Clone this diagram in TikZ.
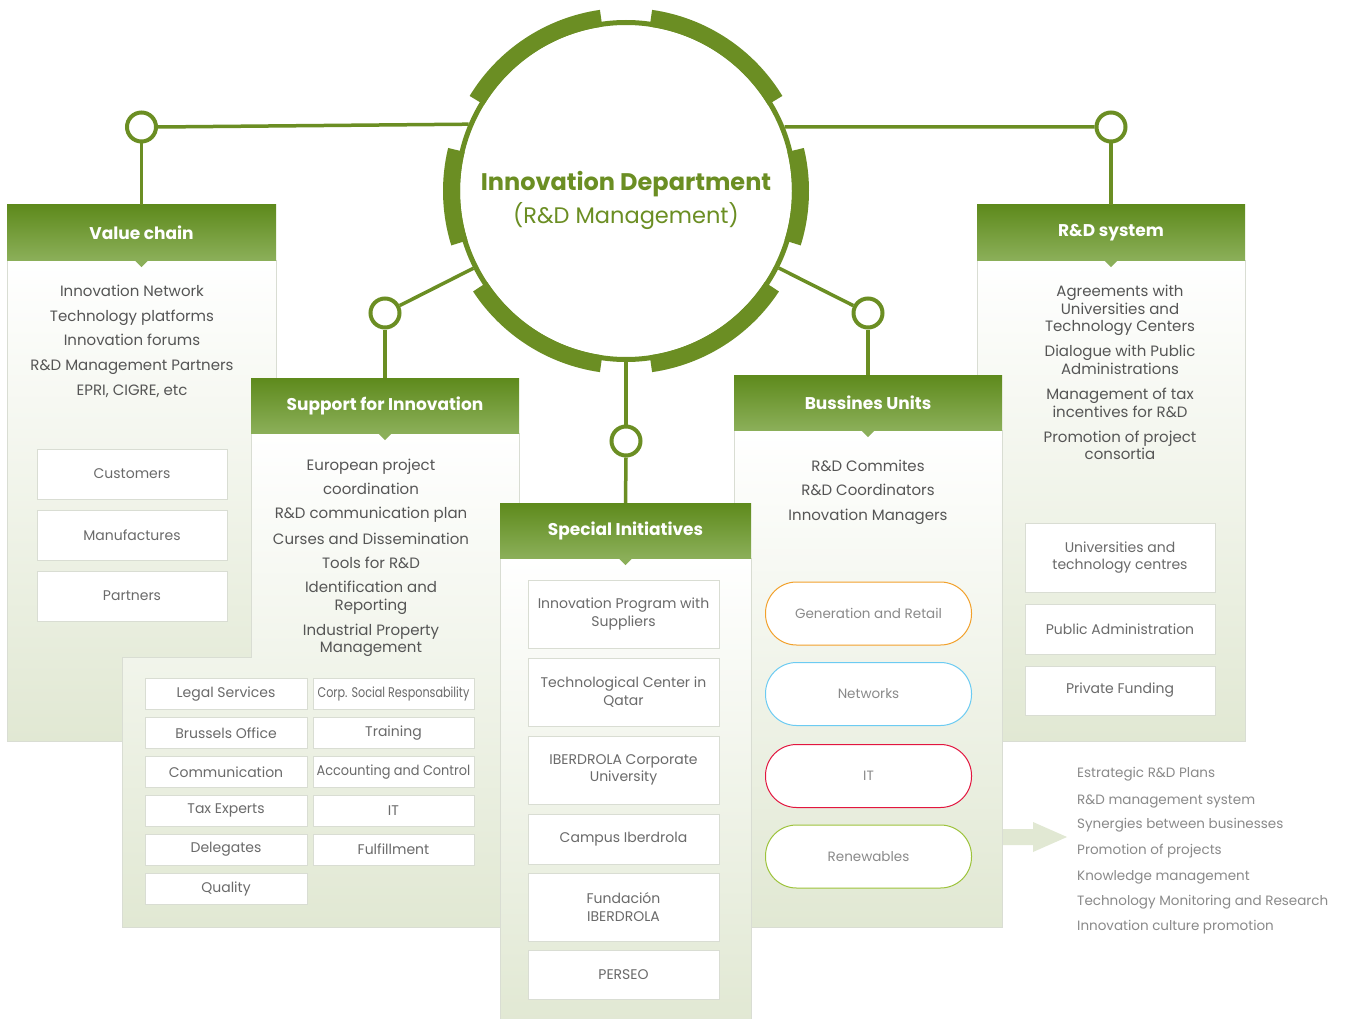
\documentclass[tikz,border=0pt]{standalone}
\usepackage{fontspec}
\setmainfont{Poppins}
\usepackage{graphicx}
\definecolor{ogreen}{HTML}{6B8E23}
\definecolor{hdtop}{HTML}{5E8A1C}
\definecolor{hdbot}{HTML}{8BAF59}
\definecolor{pbot}{HTML}{E1E8D3}
\definecolor{pborder}{HTML}{D9DDD3}
\definecolor{txt}{HTML}{555555}
\definecolor{boxtxt}{HTML}{6A6A6A}
\definecolor{lighttxt}{HTML}{8A8A8A}
\definecolor{pOrange}{HTML}{F2A12C}
\definecolor{pBlue}{HTML}{6CCBF2}
\definecolor{pRed}{HTML}{E2163F}
\definecolor{pGreen}{HTML}{9DC33B}
\newcommand\ringseg[2]{\fill[ogreen] (#1:166pt) arc[start angle=#1,end angle=#2,radius=166pt] -- (#2:183pt) arc[start angle=#2,end angle=#1,radius=183pt] -- cycle;}
\begin{document}
\begin{tikzpicture}[x=1pt,y=1pt,
  panel/.style={top color=white, bottom color=pbot, draw=pborder, line width=0.8pt},
  hdr/.style={rectangle, top color=hdtop, bottom color=hdbot, minimum height=55pt, minimum width=268pt, inner sep=0, text=white, font=\fontsize{17}{19}\selectfont\bfseries},
  bt/.style={anchor=base, text=txt, font=\fontsize{15}{18}\selectfont, inner sep=0},
  wbox/.style={rectangle, draw=pborder, fill=white, line width=0.8pt, text=boxtxt, font=\fontsize{14}{17.5}\selectfont, align=center, inner sep=0},
  pill/.style={rectangle, rounded corners=31pt, fill=white, line width=1pt, minimum width=206pt, minimum height=63pt, text=lighttxt, font=\fontsize{13.5}{16}\selectfont},
  conn/.style={circle, draw=ogreen, line width=4pt, fill=white, minimum size=29pt, inner sep=0},
  link/.style={draw=ogreen, line width=3.5pt},
  lst/.style={anchor=base west, text=lighttxt, font=\fontsize{13.5}{16}\selectfont, inner sep=0}]
\useasboundingbox (0,0) rectangle (1349,-1019);
\fill[white] (0,0) rectangle (1349,-1019);

% ---------- Value chain ----------
\path[panel] (7,-260) rectangle (276,-741);
\node[hdr, minimum width=269pt] (vch) at (141.5,-232.5) {Value chain};
\fill[hdbot] (vch.south) ++(-7,0) -- ++(14,0) -- ++(-7,-7) -- cycle;
\node[bt] (vc1) at (132,-296.5) {Innovation Network};
\node[bt] (vc2) at (132,-321.5) {Technology platforms};
\node[bt] (vc3) at (132,-345.5) {Innovation forums};
\node[bt] (vc4) at (132,-370.5) {R\&D Management Partners};
\node[bt] (vc5) at (132,-395.5) {EPRI, CIGRE, etc};
\node[wbox, minimum width=190pt, minimum height=50pt] (cust) at (132,-474) {Customers};
\node[wbox, minimum width=190pt, minimum height=50pt] (manu) at (132,-535) {Manufactures};
\node[wbox, minimum width=190pt, minimum height=50pt] (part) at (132,-596) {Partners};

% ---------- R&D system ----------
\path[panel] (977,-260) rectangle (1245,-741);
\node[hdr] (rdh) at (1111,-232.5) {R\&D system};
\fill[hdbot] (rdh.south) ++(-7,0) -- ++(14,0) -- ++(-7,-7) -- cycle;
\node[bt] (rd1) at (1120,-296.7) {Agreements with};
\node[bt] (rd2) at (1120,-314.3) {Universities and};
\node[bt] (rd3) at (1120,-331.7) {Technology Centers};
\node[bt] (rd4) at (1120,-356.7) {Dialogue with Public};
\node[bt] (rd5) at (1120,-374.3) {Administrations};
\node[bt] (rd6) at (1120,-399.3) {Management of tax};
\node[bt] (rd7) at (1120,-417.7) {incentives for R\&D};
\node[bt] (rd8) at (1120,-442.7) {Promotion of project};
\node[bt] (rd9) at (1120,-459.3) {consortia};
\node[wbox, minimum width=190pt, minimum height=69pt] (univ) at (1120,-557.5) {Universities and\\technology centres};
\node[wbox, minimum width=190pt, minimum height=50pt] (pubad) at (1120,-629) {Public Administration};
\node[wbox, minimum width=190pt, minimum height=49pt] (privf) at (1120,-690.5) {Private Funding};

% ---------- Support for Innovation ----------
\path[panel] (251,-433) -- (519,-433) -- (519,-927) -- (122,-927) -- (122,-657) -- (251,-657) -- cycle;
\node[hdr] (sih) at (385,-405.5) {Support for Innovation};
\fill[hdbot] (sih.south) ++(-7,0) -- ++(14,0) -- ++(-7,-7) -- cycle;
\node[bt] (s1) at (371,-470) {European project};
\node[bt] (s2) at (371,-494) {coordination};
\node[bt] (s3) at (371,-518.7) {R\&D communication plan};
\node[bt] (s4) at (371,-544) {Curses and Dissemination};
\node[bt] (s5) at (371,-568) {Tools for R\&D};
\node[bt] (s6) at (371,-592.7) {Identification and};
\node[bt] (s7) at (371,-610.7) {Reporting};
\node[bt] (s8) at (371,-635) {Industrial Property};
\node[bt] (s9) at (371,-652.7) {Management};
\begin{scope}[every node/.style={wbox, minimum height=31pt}]
\node[minimum width=162pt] (g1) at (226,-694) {Legal Services};
\node[minimum width=162pt] (g2) at (226,-733) {Brussels Office};
\node[minimum width=162pt] (g3) at (226,-772) {Communication};
\node[minimum width=162pt] (g4) at (226,-810.5) {Tax Experts};
\node[minimum width=162pt] (g5) at (226,-849.5) {Delegates};
\node[minimum width=162pt] (g6) at (226,-889) {Quality};
\node[minimum width=161pt] (h1) at (393.5,-694) {\scalebox{0.8}[1]{Corp. Social Responsability}};
\node[minimum width=161pt] (h2) at (393.5,-733) {Training};
\node[minimum width=161pt] (h3) at (393.5,-772) {\scalebox{0.92}[1]{Accounting and Control}};
\node[minimum width=161pt] (h4) at (393.5,-810.5) {IT};
\node[minimum width=161pt] (h5) at (393.5,-849.5) {Fulfillment};
\end{scope}

% ---------- Bussines Units ----------
\path[panel] (734,-430) rectangle (1002,-927);
\node[hdr] (buh) at (868,-402.5) {Bussines Units};
\fill[hdbot] (buh.south) ++(-7,0) -- ++(14,0) -- ++(-7,-7) -- cycle;
\node[bt] (b1) at (868,-471.7) {R\&D Commites};
\node[bt] (b2) at (868,-495.7) {R\&D Coordinators};
\node[bt] (b3) at (868,-520.7) {Innovation Managers};
\node[pill, draw=pOrange] (gen) at (868.5,-613.5) {Generation and Retail};
\node[pill, draw=pBlue] (net) at (868.5,-694) {Networks};
\node[pill, draw=pRed] (itp) at (868.5,-776) {IT};
\node[pill, draw=pGreen] (ren) at (868.5,-856.5) {Renewables};

% ---------- Special Initiatives ----------
\path[panel] (500,-558) rectangle (751,-1025);
\node[hdr, minimum width=251pt] (sph) at (625.5,-530.5) {Special Initiatives};
\fill[hdbot] (sph.south) ++(-7,0) -- ++(14,0) -- ++(-7,-7) -- cycle;
\begin{scope}[every node/.style={wbox, minimum width=191pt}]
\node[minimum height=68pt] (sp1) at (623.5,-614) {Innovation Program with\\Suppliers};
\node[minimum height=68pt] (sp2) at (623.5,-692) {Technological Center in\\Qatar};
\node[minimum height=68pt] (sp3) at (623.5,-770) {IBERDROLA Corporate\\University};
\node[minimum height=50pt] (sp4) at (623.5,-839) {Campus Iberdrola};
\node[minimum height=68pt] (sp5) at (623.5,-907) {Fundación\\IBERDROLA};
\node[minimum height=49pt] (sp6) at (623.5,-974.5) {PERSEO};
\end{scope}

% ---------- Right arrow and list ----------
\fill[pbot] (1003,-829) -- (1033,-829) -- (1033,-822) -- (1067,-837) -- (1033,-852) -- (1033,-845) -- (1003,-845) -- cycle;
\node[lst] (l1) at (1077,-777.7) {Estrategic R\&D Plans};
\node[lst] (l2) at (1077,-804) {R\&D management system};
\node[lst] (l3) at (1077,-828.3) {Synergies between businesses};
\node[lst] (l4) at (1077,-854) {Promotion of projects};
\node[lst] (l5) at (1077,-880) {Knowledge management};
\node[lst] (l6) at (1077,-905.7) {Technology Monitoring and Research};
\node[lst] (l7) at (1077,-930) {Innovation culture promotion};

% ---------- Central circle ----------
\node[circle, draw=ogreen, line width=5pt, fill=white, minimum size=337pt, inner sep=0] (main) at (626,-191) {};
\begin{scope}[shift={(main.center)}]
\ringseg{98.2}{148.7}
\ringseg{166.4}{197.3}
\ringseg{213.3}{261.8}
\ringseg{278.2}{326.7}
\ringseg{342.7}{373.6}
\ringseg{31.3}{81.8}
\end{scope}
\node[anchor=base, text=ogreen, font=\fontsize{24}{26}\selectfont\bfseries, inner sep=0] (ttl1) at (626,-191) {Innovation Department};
\node[anchor=base, text=ogreen, font=\fontsize{22.5}{26}\selectfont, inner sep=0] (ttl2) at (626,-223) {(R\&D Management)};

% ---------- Connectors ----------
\node[conn] (c1) at (141.5,-127) {};
\node[conn] (c5) at (1111,-127) {};
\node[conn] (c2) at (385,-313) {};
\node[conn] (c4) at (868,-313) {};
\node[conn] (c3) at (626,-441) {};
\draw[link] (c1.east) -- (main.157.7);
\draw[link] (c5.west) -- (main.22.3);
\draw[link] (c2) -- (main);
\draw[link] (c4) -- (main);
\draw[link] (c3) -- (main);
\draw[link] (c1.south) -- (vch.north);
\draw[link] (c5.south) -- (rdh.north);
\draw[link] (c2.south) -- (sih.north);
\draw[link] (c4.south) -- (buh.north);
\draw[link] (c3.south) -- (sph.north);
\end{tikzpicture}
\end{document}
